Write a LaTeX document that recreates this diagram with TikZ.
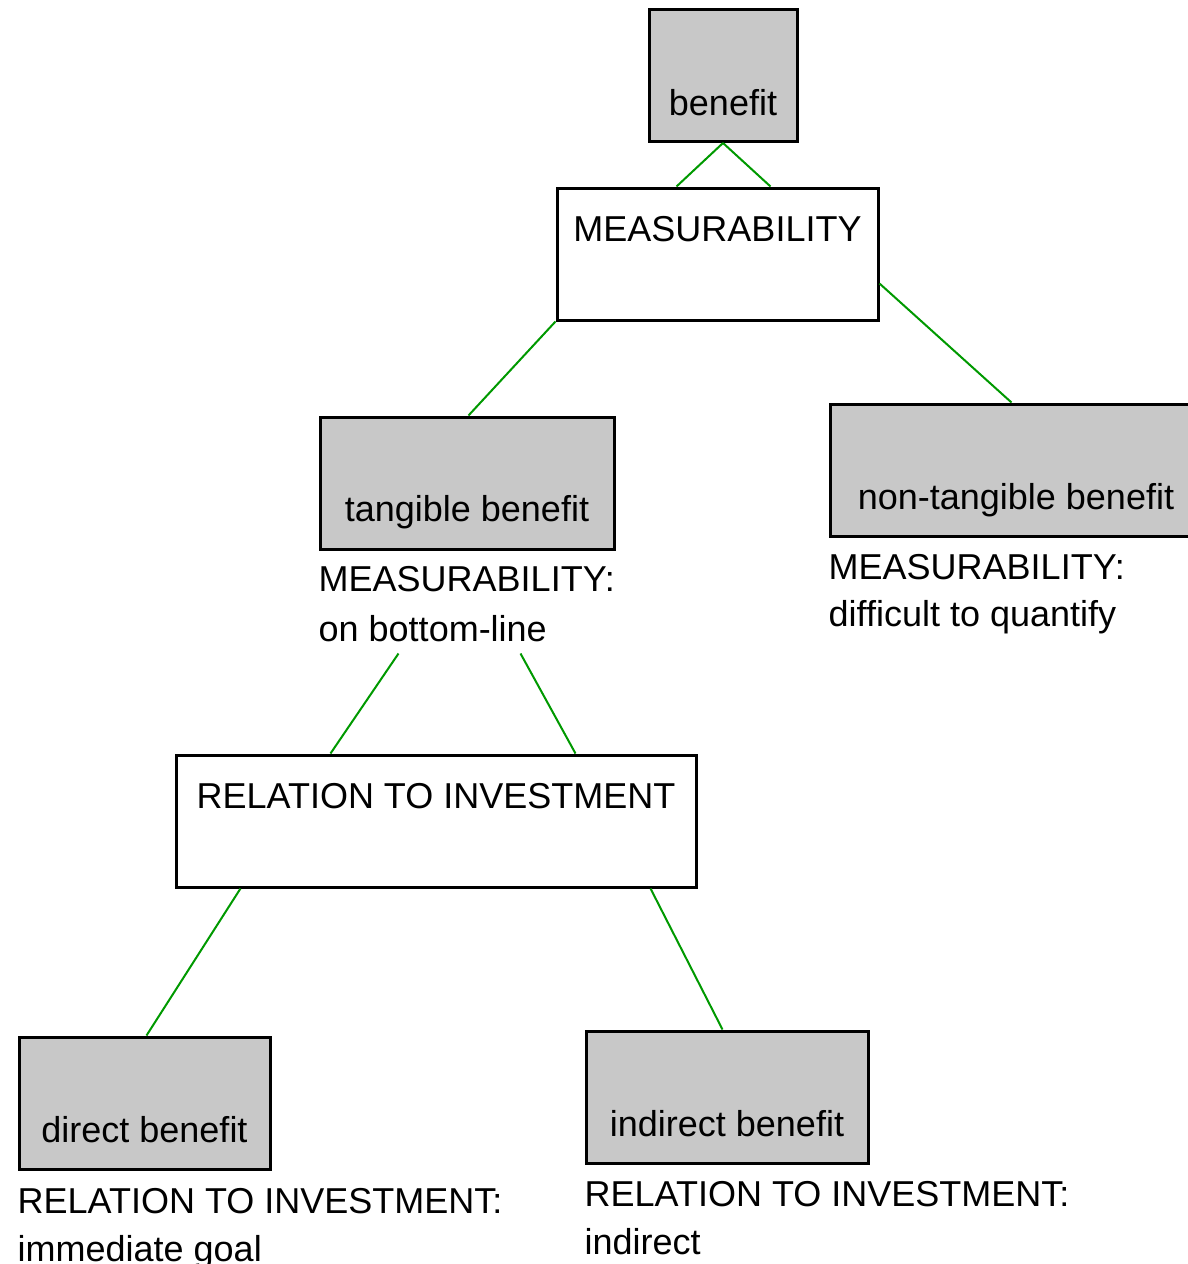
\documentclass[tikz,border=0pt]{standalone}
\usepackage{fontspec}
\setmainfont{Liberation Sans}
\usetikzlibrary{positioning, calc}
\definecolor{boxgray}{HTML}{C8C8C8}
\definecolor{linkgreen}{HTML}{009900}
\tikzstyle{Leaf} = [
rectangle, draw, line width=3pt, fill=boxgray,
minimum height=132pt, inner sep=0pt]
\tikzstyle{Split} = [
rectangle, draw, line width=3pt, fill=white,
minimum height=132pt, inner sep=0pt]
\tikzstyle{Txt} = [inner sep=0pt, font=\fontsize{36}{40}\selectfont]
\tikzstyle{Link} = [linkgreen, line width=2pt]

\begin{document}
\begin{tikzpicture}[x=1pt, y=-1pt]
    \useasboundingbox (0,0) rectangle (1188,1264);
    % boxes
    \node [Leaf, minimum width=148pt] (benefit) at (723,75.5) {};
    \node [Split, minimum width=321pt] (meas) at (717.5,254) {};
    \node [Leaf, minimum width=294pt] (tang) at (467,483) {};
    \node [Leaf, minimum width=372pt] (nontang) at (1016,470) {};
    \node [Split, minimum width=520pt] (rel) at (436,821) {};
    \node [Leaf, minimum width=251pt] (direct) at (144.5,1103) {};
    \node [Leaf, minimum width=282pt] (indirect) at (727,1097) {};
    % texts in the boxes
    \node [Txt, anchor=base] (benefittxt) at ($(benefit.south)+(0,-28)$) {benefit};
    \node [Txt, anchor=base] (meastxt) at ($(meas.north)+(0,55)$) {MEASURABILITY};
    \node [Txt, anchor=base] (tangtxt) at ($(tang.south)+(0,-29)$) {tangible benefit};
    \node [Txt, anchor=base] (nontangtxt) at ($(nontang.south)+(0,-28)$) {non-tangible benefit};
    \node [Txt, anchor=base] (reltxt) at ($(rel.north)+(0,55)$) {RELATION TO INVESTMENT};
    \node [Txt, anchor=base] (directtxt) at ($(direct.south)+(0,-28)$) {direct benefit};
    \node [Txt, anchor=base] (indirecttxt) at ($(indirect.south)+(0,-28)$) {indirect benefit};
    % texts under the boxes
    \node [Txt, anchor=base west] (tanglab) at ($(tang.south west)+(0,41)$) {MEASURABILITY:};
    \node [Txt, anchor=base west] (tanglabb) at ($(tang.south west)+(0,91)$) {on bottom-line};
    \node [Txt, anchor=base west] (nontanglab) at ($(nontang.south west)+(0,42)$) {MEASURABILITY:};
    \node [Txt, anchor=base west] (nontanglabb) at ($(nontang.south west)+(0,89)$) {difficult to quantify};
    \node [Txt, anchor=base west] (directlab) at ($(direct.south west)+(0,43)$) {RELATION TO INVESTMENT:};
    \node [Txt, anchor=base west] (directlabb) at ($(direct.south west)+(0,91)$) {immediate goal};
    \node [Txt, anchor=base west] (indirectlab) at ($(indirect.south west)+(0,42)$) {RELATION TO INVESTMENT:};
    \node [Txt, anchor=base west] (indirectlabb) at ($(indirect.south west)+(0,90)$) {indirect};
    % links
    \draw [Link] (benefit.south) -- ($(meas.north west)+(121,0)$);
    \draw [Link] (benefit.south) -- ($(meas.north west)+(215,0)$);
    \draw [Link] (meas.south west) -- ($(tang.north west)+(150,0)$);
    \draw [Link] ($(meas.north east)+(0,97)$) -- ($(nontang.north west)+(183,0)$);
    \draw [Link] ($(tang.south west)+(80,103)$) -- ($(rel.north west)+(156,0)$);
    \draw [Link] ($(tang.south west)+(202,103)$) -- ($(rel.north west)+(401,0)$);
    \draw [Link] ($(rel.south west)+(66,0)$) -- ($(direct.north west)+(129,0)$);
    \draw [Link] ($(rel.south west)+(476,0)$) -- ($(indirect.north west)+(138,0)$);
\end{tikzpicture}
\end{document}
